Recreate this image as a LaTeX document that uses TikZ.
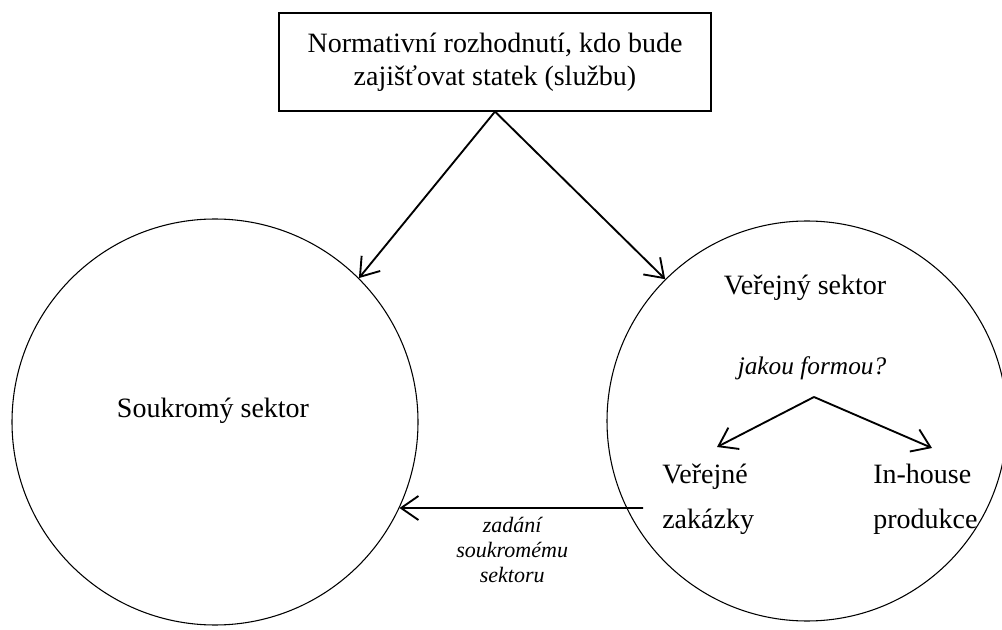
\documentclass[tikz,border=0pt]{standalone}
\usepackage{fontspec}
\setmainfont{Liberation Serif}
\usetikzlibrary{arrows.meta}
\begin{document}
\begin{tikzpicture}[x=0.75pt,y=-0.75pt,
  ring/.style={draw, circle, line width=0.8pt, inner sep=0pt},
  frame/.style={draw, line width=0.9pt, inner sep=0pt},
  arr/.style={line width=1.4pt, -{Straight Barb[length=13pt,width=18pt,line width=1.4pt]}},
  big/.style={font=\fontsize{21}{24.75}\selectfont, inner sep=0pt},
  pair/.style={font=\fontsize{21}{33.75}\selectfont, inner sep=0pt, align=left},
  ask/.style={font=\fontsize{19}{22}\selectfont\itshape, inner sep=0pt},
  note/.style={font=\fontsize{16.5}{18.75}\selectfont\itshape, inner sep=0pt, align=center}]
\useasboundingbox (0,0) rectangle (1002,630);
\clip (0,0) rectangle (1002,630);

% decision box
\node[frame, big, align=center, minimum width=324pt, minimum height=73.5pt] (box) at (495,62)
  {Normativní rozhodnutí, kdo bude\\zajišťovat statek (službu)};

% the two sectors
\node[ring, minimum size=304.5pt] (priv) at (215,422) {};
\node[ring, minimum size=300pt] (pub) at (807,421) {};

\node[big, anchor=base] (privtxt) at (213,417) {Soukromý sektor};
\node[big, anchor=base] (pubtxt) at (805,295) {Veřejný sektor};
\node[ask, anchor=base] (ask) at (812,375) {jakou formou?};

\node[pair, anchor=north west] (tender) at (662,464) {Veřejné\\zakázky};
\node[pair, anchor=north west] (inhouse) at (873,464) {In-house\\produkce};

% branching inside the public sector
\coordinate (fork) at (814,397);
\coordinate (forkL) at (717,447);
\coordinate (forkR) at (932,448);
\draw[arr] (fork) -- (forkL);
\draw[arr] (fork) -- (forkR);

% decision arrows
\draw[arr] (box.south) -- (priv.45);
\draw[arr] (box.south) -- (pub.135);

% contracting out to the private sector
\coordinate (out) at (643,508);
\draw[arr] (out) -- node[note, anchor=north, pos=0.537, yshift=-6.5pt] (outtxt)
  {zadání\\soukromému\\sektoru} (priv.-25);
\end{tikzpicture}
\end{document}
